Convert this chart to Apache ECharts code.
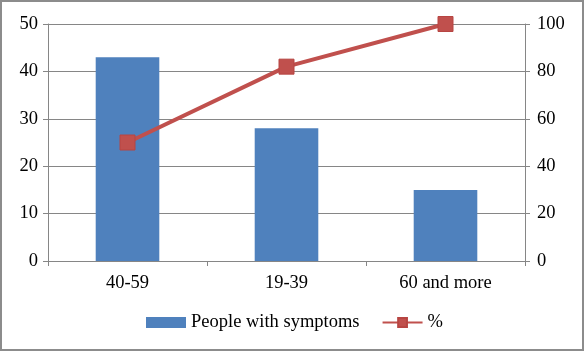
<!DOCTYPE html>
<html><head><meta charset="utf-8">
<script src="https://cdn.jsdelivr.net/npm/echarts@6/dist/echarts.min.js"></script>
<style>html,body{margin:0;padding:0;background:#fff}#c{width:585px;height:352px}</style>
</head><body><div id="c"></div>
<script>
const categories = ['40-59', '19-39', '60 and more'];
const peopleWithSymptoms = [43, 28, 15];
const percent = [50, 82, 100];
const leftTicks = [0, 10, 20, 30, 40, 50];
const rightTicks = [0, 20, 40, 60, 80, 100];

const font = '"Liberation Serif", "Times New Roman", serif';
const axisGray = '#868686';
const fs = 18.5;
const chart = echarts.init(document.getElementById('c'), null, {renderer: 'canvas'});
chart.setOption({
  animation: false,
  textStyle: {fontFamily: font},
  graphic: [{
    type: 'rect', shape: {x: 1, y: 1, width: 582, height: 349},
    style: {fill: 'none', stroke: '#8c8c8c', lineWidth: 2}, silent: true, z: 100
  }],
  grid: {left: 48, right: 60, top: 24, bottom: 91},
  legend: {
    left: 141, top: 308, itemGap: 22,
    itemWidth: 40, itemHeight: 11,
    textStyle: {fontFamily: font, fontSize: fs, color: '#000'},
    data: [
      {name: 'People with symptoms', icon: 'rect'},
      {name: '%'}
    ]
  },
  xAxis: {
    type: 'category', data: categories,
    axisLine: {lineStyle: {color: axisGray, width: 1}},
    axisTick: {show: true, length: 5, alignWithLabel: false, lineStyle: {color: axisGray}},
    axisLabel: {fontFamily: font, fontSize: fs, color: '#000', margin: 13}
  },
  yAxis: [{
    type: 'value', min: leftTicks[0], max: leftTicks[leftTicks.length - 1], interval: 10,
    axisLine: {show: true, lineStyle: {color: axisGray}},
    axisTick: {show: true, length: 5, lineStyle: {color: axisGray}},
    axisLabel: {fontFamily: font, fontSize: fs, color: '#000', margin: 10},
    splitLine: {show: true, lineStyle: {color: axisGray, width: 1}}
  }, {
    type: 'value', min: rightTicks[0], max: rightTicks[rightTicks.length - 1], interval: 20,
    position: 'right',
    axisLine: {show: true, lineStyle: {color: axisGray}},
    axisTick: {show: true, length: 5, lineStyle: {color: axisGray}},
    axisLabel: {fontFamily: font, fontSize: fs, color: '#000', margin: 12},
    splitLine: {show: false}
  }],
  series: [{
    name: 'People with symptoms', type: 'bar', data: peopleWithSymptoms,
    yAxisIndex: 0, barWidth: '40%',
    itemStyle: {color: '#4F81BD'}
  }, {
    name: '%', type: 'line', data: percent, yAxisIndex: 1,
    lineStyle: {color: '#C0504D', width: 4},
    itemStyle: {color: '#C0504D', borderColor: '#B74542', borderWidth: 1},
    symbol: 'rect', symbolSize: 15
  }]
});
</script></body></html>
